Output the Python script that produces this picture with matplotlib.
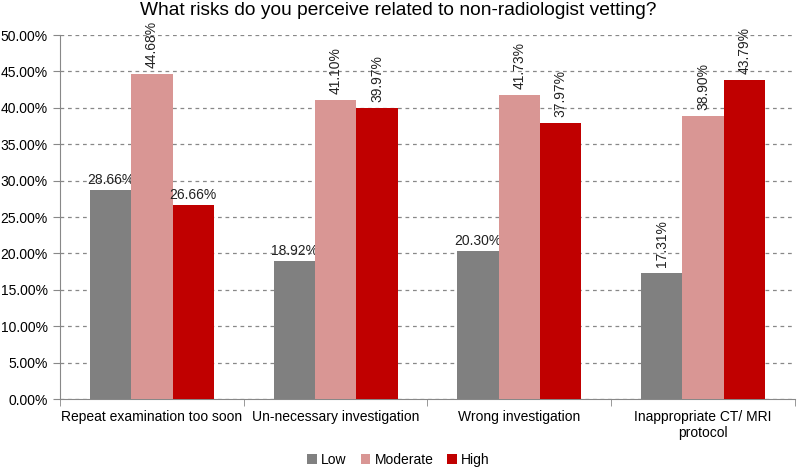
import matplotlib
matplotlib.use("Agg")
import matplotlib.pyplot as plt
import numpy as np

plt.rcParams['font.family'] = ['Liberation Sans', 'DejaVu Sans']

categories = ["Repeat examination too soon", "Un-necessary investigation",
              "Wrong investigation", "Inappropriate CT/ MRI\nprotocol"]
series_names = ["Low", "Moderate", "High"]
low = [28.66, 18.92, 20.30, 17.31]
moderate = [44.68, 41.10, 41.73, 38.90]
high = [26.66, 39.97, 37.97, 43.79]
# rotation of each value label (0 = horizontal, 90 = vertical)
low_rot = [0, 0, 0, 90]
mod_rot = [90, 90, 90, 90]
high_rot = [0, 90, 90, 90]
yticks = np.arange(0, 50.01, 5)

colors = ["#808080", "#D99694", "#C00000"]

fig = plt.figure(figsize=(7.97, 4.67), dpi=100)
ax = fig.add_axes([0.0753, 0.1456, 0.922, 0.7794])

x = np.arange(len(categories))
w = 0.225
data = [low, moderate, high]
rots = [low_rot, mod_rot, high_rot]
for i, (vals, c, name, rr) in enumerate(zip(data, colors, series_names, rots)):
    pos = x + (i - 1) * w
    ax.bar(pos, vals, width=w, color=c, label=name, zorder=3)
    for px, v, r in zip(pos, vals, rr):
        if r == 0:
            ax.text(px, v + 0.4, f"{v:.2f}%", ha='center', va='bottom', fontsize=10, color='#222222')
        else:
            ax.text(px, v + 0.8, f"{v:.2f}%", ha='center', va='bottom', rotation=90, fontsize=10, color='#222222')

ax.set_xlim(-0.5, len(categories) - 0.5)
ax.set_ylim(0, 50)
ax.set_yticks(yticks)
ax.set_yticklabels([f"{t:.2f}%" for t in yticks], fontsize=10)
ax.yaxis.grid(True, linestyle=(0, (3, 3)), color='#888888', linewidth=0.9, zorder=0)
ax.set_axisbelow(True)

ax.set_xticks(x)
ax.set_xticklabels(categories, fontsize=10)
ax.tick_params(axis='x', length=0, pad=8)
ax.set_xticks(np.arange(-0.5, len(categories)), minor=True)
ax.tick_params(axis='x', which='minor', length=5, color='#888888')
ax.tick_params(axis='y', length=5, color='#888888', pad=4)

for s in ['top', 'right']:
    ax.spines[s].set_visible(False)
for s in ['left', 'bottom']:
    ax.spines[s].set_color('#888888')

fig.suptitle("What risks do you perceive related to non-radiologist vetting?", fontsize=13.8,
             x=0.5, y=0.995, va='top')

fig.legend(*ax.get_legend_handles_labels(), loc='center', bbox_to_anchor=(0.5, 0.016), ncol=3, frameon=False,
           fontsize=10, handlelength=0.7, handleheight=0.7, handletextpad=0.3, columnspacing=1.0,
           borderpad=0.1)

fig.savefig("out.png", dpi=100)
